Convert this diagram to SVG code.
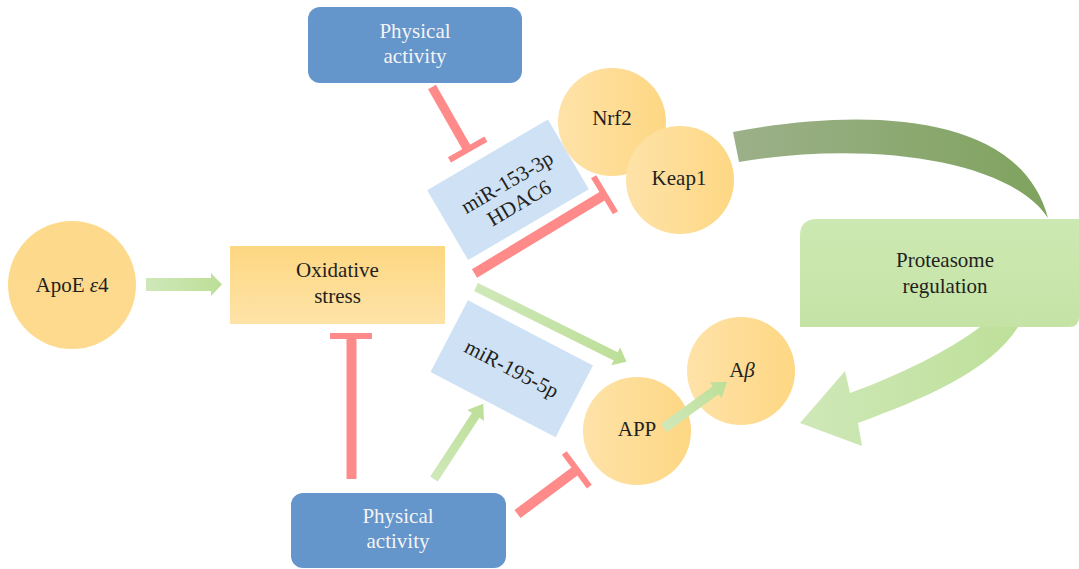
<svg xmlns="http://www.w3.org/2000/svg" width="1079" height="569" viewBox="0 0 1079 569">
<defs>
<linearGradient id="gCircle" x1="0" y1="0" x2="1" y2="0"><stop offset="0" stop-color="#FEE2A8"/><stop offset="1" stop-color="#FDD783"/></linearGradient>
<linearGradient id="gApo" x1="0" y1="0" x2="0" y2="1"><stop offset="0" stop-color="#FDD98C"/><stop offset="1" stop-color="#FDDA8E"/></linearGradient>
<linearGradient id="gOx" x1="0" y1="0" x2="0" y2="1"><stop offset="0" stop-color="#FDD781"/><stop offset="1" stop-color="#FEE3A8"/></linearGradient>
<linearGradient id="gArrow" x1="0" y1="0" x2="1" y2="0"><stop offset="0" stop-color="#CFE8B9"/><stop offset="1" stop-color="#BCDF97"/></linearGradient>
<linearGradient id="gDark" gradientUnits="userSpaceOnUse" x1="733" y1="0" x2="1048" y2="0"><stop offset="0" stop-color="#9CB089"/><stop offset="1" stop-color="#7FA35E"/></linearGradient>
<linearGradient id="gLight" gradientUnits="userSpaceOnUse" x1="800" y1="0" x2="1020" y2="0"><stop offset="0" stop-color="#CFE8B8"/><stop offset="1" stop-color="#BDE099"/></linearGradient>
<linearGradient id="gProt" x1="0" y1="0" x2="0" y2="1"><stop offset="0" stop-color="#CDE9B3"/><stop offset="1" stop-color="#C5E3A5"/></linearGradient>
<style>
text{font-family:"Liberation Serif","Times New Roman",serif;font-size:21px;fill:#231F20;text-anchor:middle}
.w{fill:#F4F4F4}
.blue{fill:#6495CB}
.mir{fill:#CFE2F5}
.inh{stroke:#FF8A8A;fill:none}
.arr{fill:url(#gArrow)}
</style>
</defs>

<!-- Curved arrows (behind proteasome box) -->
<g id="curves">
<path d="M733,132 C860,108 1020,110 1048,218 C1010,160 870,140 739,162 Z" fill="url(#gDark)"/>
<path d="M980,327 C950,350 900,375 850,393 L845,371 L800,423 L862,446 L858,423 C920,400 990,372 1018,327 Z" fill="url(#gLight)"/>
</g>

<g id="proteasome">
<path d="M800,236 Q800,219 817,219 L1079,219 L1079,317 Q1079,327 1069,327 L800,327 Z" fill="url(#gProt)"/>
<text x="945" y="267">Proteasome</text>
<text x="945" y="293">regulation</text>
</g>

<g id="apoe">
<circle cx="72" cy="285" r="64" fill="url(#gApo)"/>
<text x="72" y="292">ApoE <tspan font-style="italic">ε</tspan>4</text>
</g>

<g id="oxidative">
<rect x="230" y="246" width="215" height="78" fill="url(#gOx)"/>
<text x="337.5" y="277">Oxidative</text>
<text x="337.5" y="303">stress</text>
</g>

<g id="pa-top">
<rect x="308" y="7" width="214" height="76" rx="12" class="blue"/>
<text x="415" y="38" class="w">Physical</text>
<text x="415" y="63" class="w">activity</text>
</g>

<g id="pa-bottom">
<rect x="291" y="493" width="215" height="75" rx="12" class="blue"/>
<text x="398" y="523" class="w">Physical</text>
<text x="398" y="548" class="w">activity</text>
</g>

<g id="mir153">
<g transform="translate(508,189.75) rotate(-30.4)">
<rect x="-70" y="-40.5" width="140" height="81" class="mir"/>
<text x="3" y="0">miR-153-3p</text>
<text x="3" y="24">HDAC6</text>
</g>
</g>

<g id="mir195">
<g transform="translate(511.75,368.75) rotate(27.5)">
<rect x="-70.5" y="-40.5" width="141" height="81" class="mir"/>
<text x="0" y="7">miR-195-5p</text>
</g>
</g>

<g id="nrf2">
<circle cx="612" cy="122" r="54" fill="url(#gCircle)"/>
<text x="612" y="125">Nrf2</text>
</g>

<g id="keap1">
<circle cx="680" cy="180" r="54" fill="url(#gCircle)"/>
<text x="679" y="185">Keap1</text>
</g>

<g id="app">
<circle cx="637" cy="431" r="54" fill="url(#gCircle)"/>
<text x="637" y="436">APP</text>
</g>

<g id="abeta">
<circle cx="741" cy="371" r="54" fill="url(#gCircle)"/>
<text x="742" y="377">A<tspan font-style="italic">β</tspan></text>
</g>

<g id="connectors">
<!-- green activation arrows -->
<polygon class="arr" transform="translate(146,284.5)" points="0,-6.5 65,-6.5 65,-11.5 76,0 65,11.5 65,6.5 0,6.5"/>
<polygon class="arr" transform="translate(476,287) rotate(26.4)" points="0,-4.5 156,-4.5 156,-10 168,0 156,10 156,4.5 0,4.5"/>
<polygon class="arr" transform="translate(434,479) rotate(-56.8)" points="0,-4.5 76,-4.5 76,-10 90,0 76,10 76,4.5 0,4.5"/>
<polygon class="arr" transform="translate(664,428) rotate(-36.1)" points="0,-5 64,-5 64,-10 78,0 64,10 64,5 0,5"/>
<!-- red inhibition lines -->
<g transform="translate(432,87) rotate(60.3)">
<line x1="0" y1="0" x2="72" y2="0" class="inh" stroke-width="9"/>
<line x1="72" y1="-21" x2="72" y2="21" class="inh" stroke-width="6"/>
</g>
<g transform="translate(474.5,273.5) rotate(-31.2)">
<line x1="0" y1="0" x2="152" y2="0" class="inh" stroke-width="10"/>
<line x1="152" y1="-21" x2="152" y2="21" class="inh" stroke-width="6"/>
</g>
<line x1="351.5" y1="479" x2="351.5" y2="336" class="inh" stroke-width="10"/>
<line x1="330" y1="336" x2="372" y2="336" class="inh" stroke-width="6"/>
<g transform="translate(517.5,514) rotate(-36.7)">
<line x1="0" y1="0" x2="74" y2="0" class="inh" stroke-width="10"/>
<line x1="74" y1="-21" x2="74" y2="21" class="inh" stroke-width="6"/>
</g>
</g>
</svg>
